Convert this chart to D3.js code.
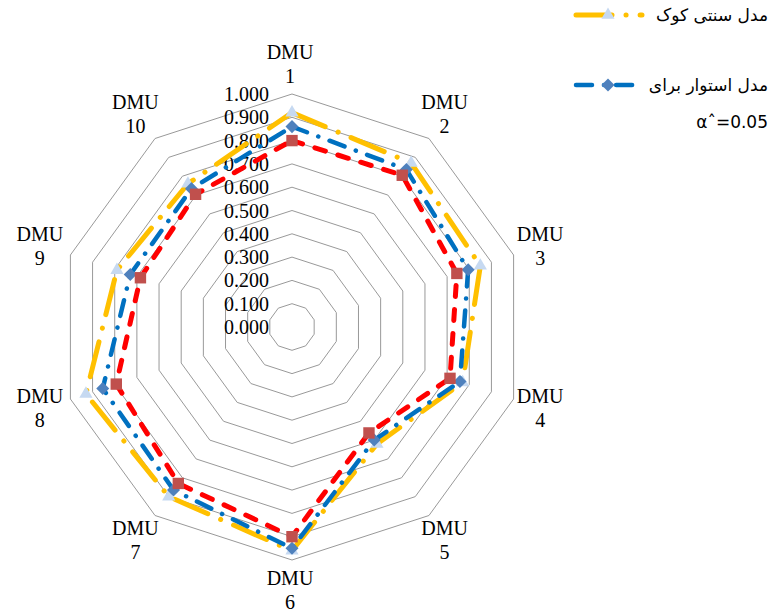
<!DOCTYPE html>
<html>
<head>
<meta charset="utf-8">
<script src="https://cdn.jsdelivr.net/npm/d3@7"></script>
<style>
  body { margin: 0; background: #fff; }
  .grid { fill: none; stroke: #999; stroke-width: 1; }
  .tick { font-family: "Liberation Serif", "Times New Roman", "DejaVu Serif", serif; font-size: 20px; fill: #000; }
  .cat { font-family: "Liberation Serif", "Times New Roman", "DejaVu Serif", serif; font-size: 20px; fill: #000; }
  .leg { font-family: "DejaVu Sans", sans-serif; font-size: 17px; fill: #000; }
</style>
</head>
<body>
<div id="chart"></div>
<script>
// Daten
const categories = ["DMU 1", "DMU 2", "DMU 3", "DMU 4", "DMU 5", "DMU 6", "DMU 7", "DMU 8", "DMU 9", "DMU 10"]
const cookValues = [0.92, 0.87, 0.85, 0.77, 0.62, 0.96, 0.90, 0.93, 0.79, 0.76]
const robustValues = [0.86, 0.835, 0.795, 0.758, 0.60, 0.95, 0.865, 0.854, 0.73, 0.734]
const thirdValues = [0.80, 0.805, 0.744, 0.713, 0.562, 0.90, 0.83, 0.793, 0.684, 0.704]
const tickValues = [0, 0.1, 0.2, 0.3, 0.4, 0.5, 0.6, 0.7, 0.8, 0.9, 1.0]
const legendNames = ["مدل سنتی کوک", "مدل استوار برای"]
const legendNote = "α\u02C6=0.05"

const width = 776
const height = 616
const cx = 292
const cy = 327
const radius = 233

const svg = d3.select("#chart")
    .append("svg")
    .attr("width", width)
    .attr("height", height)

const g = svg.append("g")
    .attr("transform", `translate(${cx}, ${cy})`)

const r = d3.scaleLinear().domain([0, 1]).range([0, radius])
const angle = d3.scaleLinear().domain([0, categories.length]).range([0, Math.PI * 2])

// Gitternetz
g.selectAll(".grid")
    .data(tickValues.filter(d => d > 0))
    .enter().append("path")
    .attr("class", "grid")
    .attr("d", v => d3.lineRadial()
        .angle((d, i) => angle(i))
        .radius(r(v))
        .curve(d3.curveLinearClosed)(categories))

// Achsenbeschriftung (Werte)
g.selectAll(".tick")
    .data(tickValues)
    .enter().append("text")
    .attr("class", "tick")
    .attr("x", -23)
    .attr("y", d => -r(d))
    .attr("dy", "0.35em")
    .attr("text-anchor", "end")
    .text(d => d3.format(".3f")(d))

// Kategorien
const labelR = 263
const cat = g.selectAll(".cat")
    .data(categories)
    .enter().append("text")
    .attr("class", "cat")
    .attr("text-anchor", "middle")
    .attr("transform", (d, i) => {
        const a = angle(i)
        return `translate(${labelR * Math.sin(a) - 2}, ${-labelR * Math.cos(a)})`
    })
cat.append("tspan").attr("x", 0).attr("y", -5).text(d => d.split(" ")[0])
cat.append("tspan").attr("x", 0).attr("y", 19).text(d => d.split(" ")[1])

// Reihen
const series = [
    { values: cookValues, color: "#FFC000", width: 5, dash: "36,14,0.1,14", marker: d3.symbolTriangle, mcolor: "#C6D9F1", msize: 75, rot: 0 },
    { values: robustValues, color: "#0070C0", width: 4.5, dash: "16,12,0.1,12", marker: d3.symbolSquare, mcolor: "#4F81BD", msize: 85, rot: 45 },
    { values: thirdValues, color: "#FF0000", width: 5, dash: "11,13", marker: d3.symbolSquare, mcolor: "#C0504D", msize: 130, rot: 0 }
]

const line = d3.lineRadial()
    .angle((d, i) => angle(i))
    .radius(d => r(d))
    .curve(d3.curveLinearClosed)

series.forEach(s => {
    g.append("path")
        .datum(s.values)
        .attr("fill", "none")
        .attr("stroke", s.color)
        .attr("stroke-width", s.width)
        .attr("stroke-linecap", "round")
        .attr("stroke-dasharray", s.dash)
        .attr("d", line)

    g.selectAll(null)
        .data(s.values)
        .enter().append("path")
        .attr("d", d3.symbol().type(s.marker).size(s.msize))
        .attr("fill", s.mcolor)
        .attr("transform", (d, i) => {
            const a = angle(i)
            return `translate(${r(d) * Math.sin(a)}, ${-r(d) * Math.cos(a)}) rotate(${s.rot})`
        })
})

// Legende
const leg = svg.append("g")
legendNames.forEach((name, i) => {
    const s = series[i]
    const y = i === 0 ? 15 : 85
    leg.append("line")
        .attr("x1", 576).attr("x2", 642)
        .attr("y1", y).attr("y2", y)
        .attr("stroke", s.color)
        .attr("stroke-width", s.width)
        .attr("stroke-linecap", "round")
        .attr("stroke-dasharray", s.dash)
    leg.append("path")
        .attr("d", d3.symbol().type(s.marker).size(s.msize))
        .attr("fill", s.mcolor)
        .attr("transform", `translate(608, ${y}) rotate(${s.rot})`)
    leg.append("text")
        .attr("class", "leg")
        .attr("x", 768).attr("y", y)
        .attr("dy", "0.35em")
        .attr("text-anchor", "end")
        .text(name)
})
leg.append("text")
    .attr("class", "leg")
    .attr("x", 768).attr("y", 122)
    .attr("dy", "0.35em")
    .attr("text-anchor", "end")
    .text(legendNote)
</script>
</body>
</html>
